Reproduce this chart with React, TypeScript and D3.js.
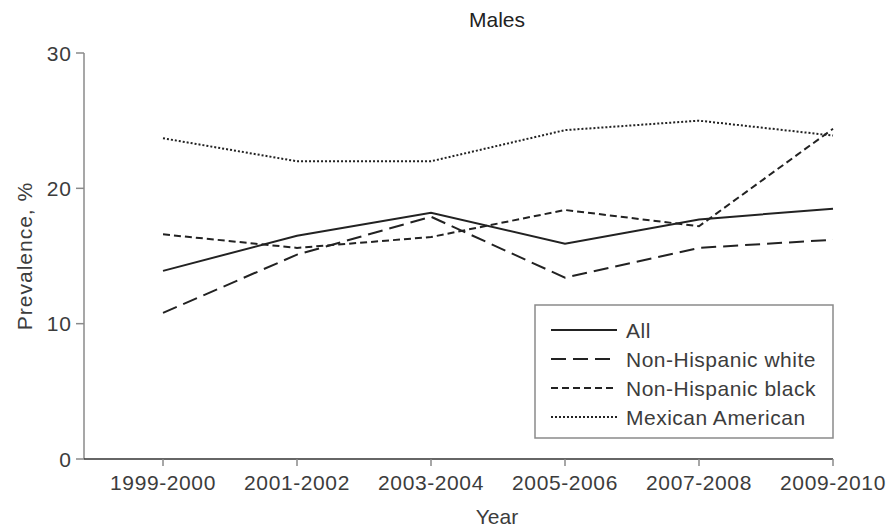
import { useEffect, useRef } from "react";
import * as d3 from "d3";

const years = ["1999-2000", "2001-2002", "2003-2004", "2005-2006", "2007-2008", "2009-2010"];
const all = [13.9, 16.5, 18.2, 15.9, 17.7, 18.5];
const nhWhite = [10.8, 15.1, 17.9, 13.4, 15.6, 16.2];
const nhBlack = [16.6, 15.6, 16.4, 18.4, 17.2, 24.4];
const mexican = [23.7, 22.0, 22.0, 24.3, 25.0, 23.9];
const yTicks = [0, 10, 20, 30];

const series = [
  { name: "All", values: all, dash: null },
  { name: "Non-Hispanic white", values: nhWhite, dash: "15,7" },
  { name: "Non-Hispanic black", values: nhBlack, dash: "7,4" },
  { name: "Mexican American", values: mexican, dash: "2,2" },
];

const W = 890;
const H = 527;
const FONT = "'Liberation Sans', Arial, sans-serif";
const TXT = "#3c3c3c";

export default function App() {
  const svgRef = useRef<SVGSVGElement>(null);

  useEffect(() => {
    const svg = d3.select(svgRef.current);
    svg.selectAll("*").remove();

    const left = 84;
    const top = 53;
    const bottom = 459;

    const x = d3.scalePoint<string>().domain(years).range([163, 833]);
    const y = d3.scaleLinear().domain([0, 30]).range([bottom, top]);

    // y axis
    const yAxis = svg.append("g").attr("transform", `translate(${left},0)`);
    yAxis.append("line").attr("y1", y(30)).attr("y2", y(0)).attr("stroke", "#8a8a8a").attr("stroke-width", 1.5);
    yAxis.selectAll(".yt").data(yTicks).join("line")
      .attr("x1", -8).attr("x2", 0)
      .attr("y1", (d) => y(d)).attr("y2", (d) => y(d))
      .attr("stroke", "#8a8a8a").attr("stroke-width", 1.5);
    yAxis.selectAll(".yl").data(yTicks).join("text")
      .attr("x", -12).attr("y", (d) => y(d)).attr("dy", "0.36em")
      .attr("text-anchor", "end")
      .attr("font-size", 21).attr("letter-spacing", 1)
      .attr("fill", TXT).attr("font-family", FONT)
      .text((d) => d);

    // x axis
    const xAxis = svg.append("g").attr("transform", `translate(0,${bottom})`);
    xAxis.append("line").attr("x1", left).attr("x2", x(years[years.length - 1])!).attr("stroke", "#333").attr("stroke-width", 1.5);
    xAxis.selectAll(".xt").data(years).join("line")
      .attr("x1", (d) => x(d)!).attr("x2", (d) => x(d)!)
      .attr("y1", 0).attr("y2", 7)
      .attr("stroke", "#8a8a8a").attr("stroke-width", 1.5);
    xAxis.selectAll(".xl").data(years).join("text")
      .attr("x", (d) => x(d)!).attr("y", 31)
      .attr("text-anchor", "middle")
      .attr("font-size", 21).attr("letter-spacing", 0.6)
      .attr("fill", TXT).attr("font-family", FONT)
      .text((d) => d);

    // titles
    svg.append("text").attr("x", 497).attr("y", 27).attr("text-anchor", "middle")
      .attr("font-size", 21).attr("fill", "#222").attr("font-family", FONT).text("Males");
    svg.append("text").attr("x", 497).attr("y", 524).attr("text-anchor", "middle")
      .attr("font-size", 21).attr("fill", TXT).attr("font-family", FONT).text("Year");
    svg.append("text")
      .attr("transform", `translate(32,${(top + bottom) / 2}) rotate(-90)`)
      .attr("text-anchor", "middle")
      .attr("font-size", 21).attr("letter-spacing", 1).attr("fill", TXT).attr("font-family", FONT)
      .text("Prevalence, %");

    // lines
    const line = d3.line<number>()
      .x((_, i) => x(years[i])!)
      .y((d) => y(d));

    svg.selectAll(".series").data(series).join("path")
      .attr("d", (d) => line(d.values))
      .attr("fill", "none")
      .attr("stroke", "#222")
      .attr("stroke-width", 2)
      .attr("stroke-dasharray", (d) => d.dash);

    // legend
    const lg = svg.append("g");
    lg.append("rect").attr("x", 535).attr("y", 305).attr("width", 298).attr("height", 133)
      .attr("fill", "#fff").attr("stroke", "#8a8a8a").attr("stroke-width", 1.5);
    const rows = lg.selectAll(".row").data(series).join("g")
      .attr("transform", (_, i) => `translate(551,${330 + i * 29})`);
    rows.append("line").attr("x1", 0).attr("x2", 66)
      .attr("stroke", "#222").attr("stroke-width", 2)
      .attr("stroke-dasharray", (d) => d.dash);
    rows.append("text").attr("x", 75).attr("dy", "0.36em")
      .attr("font-size", 21).attr("letter-spacing", 0.5).attr("fill", TXT).attr("font-family", FONT)
      .text((d) => d.name);
  }, []);

  return (
    <svg
      ref={svgRef}
      width={W}
      height={H}
      style={{ position: "absolute", left: 0, top: 0, display: "block", background: "#fff" }}
    />
  );
}
